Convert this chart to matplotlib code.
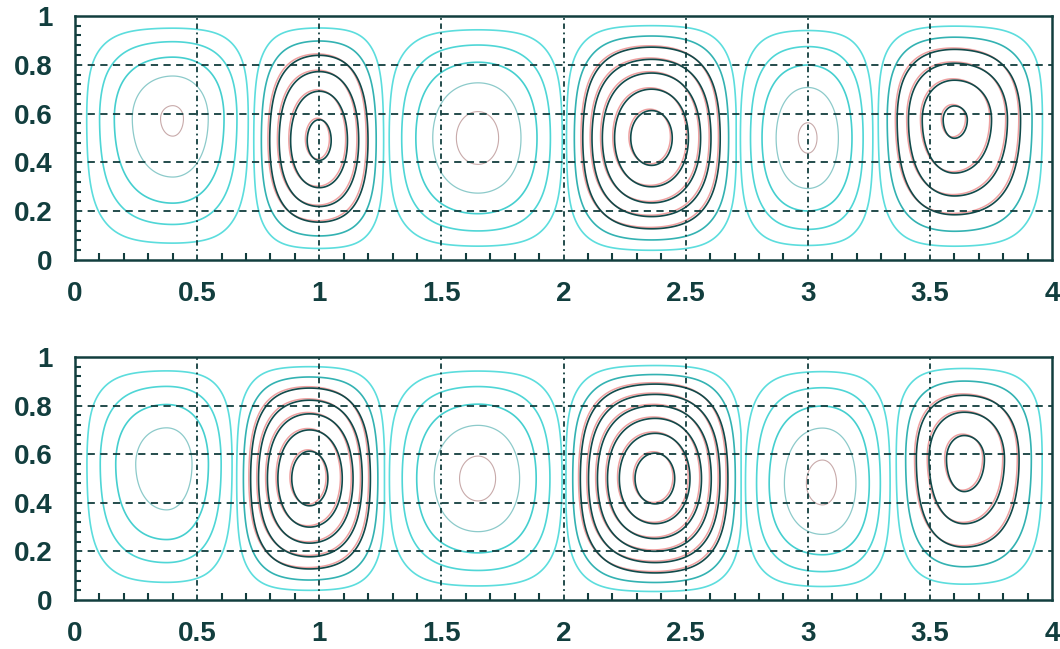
import numpy as np
import matplotlib.pyplot as plt
import matplotlib.transforms as mtransforms
from matplotlib.ticker import MultipleLocator

# cell walls (x), cell centres and cell strengths
walls_top = [0.0, 0.725, 1.27, 2.01, 2.71, 3.28, 4.0]
cx_top = [0.40, 1.00, 1.65, 2.36, 3.00, 3.60]
cy_top = [0.58, 0.49, 0.50, 0.50, 0.50, 0.575]
amp_top = [-5.15, 6.3, -5.4, 7.6, -5.15, 6.2]

walls_bot = [0.0, 0.66, 1.27, 2.01, 2.73, 3.35, 4.0]
cx_bot = [0.375, 0.96, 1.65, 2.375, 3.06, 3.64]
cy_bot = [0.56, 0.50, 0.50, 0.50, 0.48, 0.58]
amp_bot = [-4.75, 7.6, -5.3, 8.6, -5.3, 5.45]

levels = [-5, -4, -3, -2, -1, 1, 2, 3, 4, 5, 6, 7, 8]
level_colors = ['#c8aaaa', '#8ccaca', '#45cfcf', '#4fd6d6', '#5cdddd',
                '#5cdddd', '#33b2b2', '#114a4a', '#114a4a', '#114a4a',
                '#114a4a', '#114a4a', '#114a4a']
level_widths = [0.8, 0.9, 1.2, 1.2, 1.2, 1.2, 1.2, 1.2, 1.2, 1.2, 1.2, 1.2, 1.2]

xticks = [0, 0.5, 1, 1.5, 2, 2.5, 3, 3.5, 4]
xlabels = ['0', '0.5', '1', '1.5', '2', '2.5', '3', '3.5', '4']
yticks = [0, 0.2, 0.4, 0.6, 0.8, 1]
ylabels = ['0', '0.2', '0.4', '0.6', '0.8', '1']

ink = '#123e3e'


def local(v, lo, c, hi, stretch_lo=1.0, stretch_hi=1.0):
    # 0 at the centre, about 1 at the walls
    return np.where(v < c, (c - v) / ((c - lo) * stretch_lo),
                    (v - c) / ((hi - c) * stretch_hi))


def field(walls, cx, cy, amp):
    x = np.linspace(0, 4, 1201)
    y = np.linspace(0, 1, 301)
    X, Y = np.meshgrid(x, y)
    psi = np.zeros_like(X)
    n = len(cx)
    for i in range(n):
        inside = (X >= walls[i]) & (X <= walls[i + 1])
        s_lo = 1.0 if i == 0 else 1.08
        s_hi = 1.0 if i == n - 1 else 1.08
        u = local(X, walls[i], cx[i], walls[i + 1], s_lo, s_hi)
        v = local(Y, 0.0, cy[i], 1.0)
        r2 = np.sqrt(u**2 + v**2)
        r5 = (u**5 + v**5) ** 0.2
        w = np.clip(r5, 0, 1) ** 2
        r = (1 - w) * r2 + w * r5
        cell = amp[i] * np.clip(1 - r**1.7, 0, None)
        psi = np.where(inside, cell, psi)
    return X, Y, psi


plt.rcParams['font.family'] = ['Liberation Sans', 'DejaVu Sans']
fig = plt.figure(figsize=(10.6, 6.49), dpi=100)
ax_top = fig.add_axes([0.0708, 0.5994, 0.9217, 0.376])
ax_bot = fig.add_axes([0.0708, 0.0755, 0.9217, 0.3744])

panels = [(ax_top, walls_top, cx_top, cy_top, amp_top),
          (ax_bot, walls_bot, cx_bot, cy_bot, amp_bot)]

for ax, walls, cx, cy, amp in panels:
    X, Y, psi = field(walls, cx, cy, amp)
    # pink fringe of the scanned original, a little up and left of the dark lines
    shift = mtransforms.ScaledTranslation(-1.8 / 100, 1.4 / 100, fig.dpi_scale_trans)
    dark = [l for l in levels if l >= 3]
    ax.contour(X, Y, psi, levels=dark, colors='#eea0a0', linewidths=1.1,
               transform=ax.transData + shift)
    ax.contour(X, Y, psi, levels=levels, colors=level_colors, linewidths=level_widths)

    for xv in xticks[1:-1]:
        ax.axvline(xv, color=ink, lw=1.3, dashes=(3, 2, 1, 2))
    for yv in yticks[1:-1]:
        ax.axhline(yv, color=ink, lw=1.3, dashes=(4, 3))

    ax.set_xlim(0, 4)
    ax.set_ylim(0, 1)
    ax.set_xticks(xticks)
    ax.set_xticklabels(xlabels)
    ax.set_yticks(yticks)
    ax.set_yticklabels(ylabels)
    ax.xaxis.set_minor_locator(MultipleLocator(0.1))
    ax.yaxis.set_minor_locator(MultipleLocator(0.04))
    ax.tick_params(which='both', direction='in', color=ink, width=1.5,
                   top=False, right=False)
    ax.tick_params(which='major', length=0)
    ax.tick_params(axis='x', which='minor', length=5)
    ax.tick_params(axis='y', which='minor', length=4)
    ax.tick_params(axis='x', which='major', pad=15, labelsize=20, labelcolor=ink)
    ax.tick_params(axis='y', which='major', pad=16, labelsize=20, labelcolor=ink)
    for lab in ax.get_xticklabels() + ax.get_yticklabels():
        lab.set_fontweight('bold')
    for sp in ax.spines.values():
        sp.set_color(ink)
        sp.set_linewidth(1.8)

fig.savefig('out.png', dpi=100)
